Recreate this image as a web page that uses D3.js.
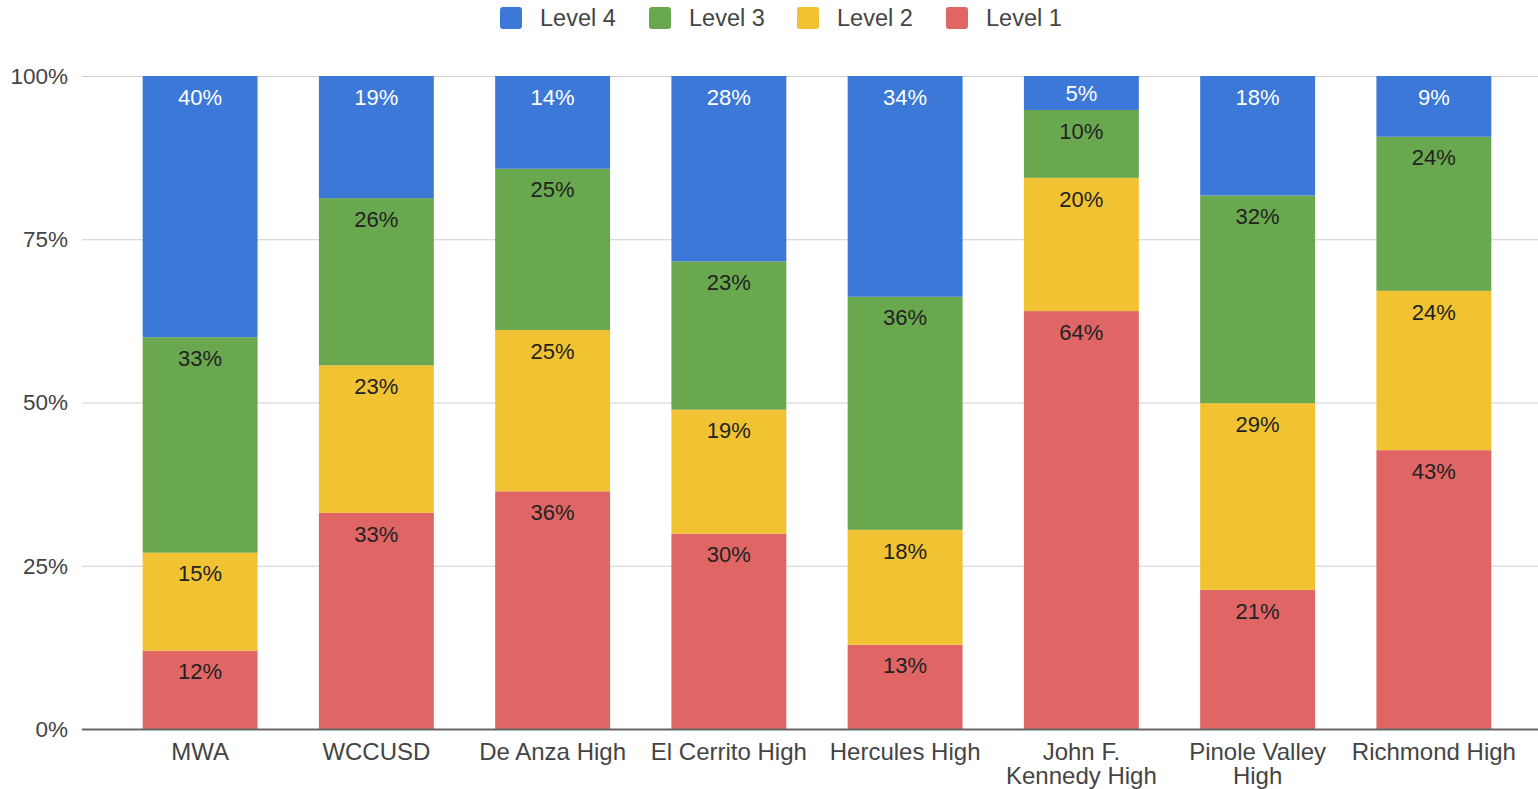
<!DOCTYPE html>
<html>
<head>
<meta charset="utf-8">
<script src="https://cdn.jsdelivr.net/npm/d3@7"></script>
<style>
  body { margin: 0; background: #fff; }
  svg { display: block; font-family: "Liberation Sans", Arial, sans-serif; }
</style>
</head>
<body>
<div id="chart"></div>
<script>
const schools = ['MWA', 'WCCUSD', 'De Anza High', 'El Cerrito High', 'Hercules High',
  'John F. Kennedy High', 'Pinole Valley High', 'Richmond High'];
// how the category labels break onto lines under the axis
const schoolLines = [['MWA'], ['WCCUSD'], ['De Anza High'], ['El Cerrito High'], ['Hercules High'],
  ['John F.', 'Kennedy High'], ['Pinole Valley', 'High'], ['Richmond High']];
const level1 = [12.0, 33.1, 36.4, 29.9, 12.9, 64.0, 21.3, 42.7];
const level2 = [15.0, 22.6, 24.7, 19.0, 17.6, 20.4, 28.6, 24.4];
const level3 = [33.0, 25.6, 24.7, 22.7, 35.7, 10.4, 31.8, 23.6];
const level4 = [40.0, 18.7, 14.2, 28.4, 33.8, 5.2, 18.3, 9.3];
const levels = ['Level 1', 'Level 2', 'Level 3', 'Level 4'];
const yTicks = [0, 25, 50, 75, 100];

const colors = {
  'Level 1': '#e06666',
  'Level 2': '#f1c232',
  'Level 3': '#6aa84f',
  'Level 4': '#3c78d8',
};

const W = 1538, H = 789;
const margin = { top: 76, right: 16, bottom: 60, left: 112 };

const rows = schools.map((s, i) => ({
  school: s,
  'Level 1': level1[i],
  'Level 2': level2[i],
  'Level 3': level3[i],
  'Level 4': level4[i],
}));

const svg = d3.select('#chart').append('svg')
  .attr('width', W)
  .attr('height', H);

const x = d3.scaleBand()
  .domain(schools)
  .range([margin.left, W - margin.right])
  .paddingInner(0.348)
  .paddingOuter(0.174);

const y = d3.scaleLinear()
  .domain([0, 100])
  .range([H - margin.bottom, margin.top]);

// gridlines
svg.append('g')
  .selectAll('line')
  .data(yTicks.filter(t => t > 0))
  .join('line')
  .attr('x1', 82)
  .attr('x2', W)
  .attr('y1', d => y(d) + 0.5)
  .attr('y2', d => y(d) + 0.5)
  .attr('stroke', '#d0d0d0')
  .attr('stroke-width', 1);

// y labels
svg.append('g')
  .selectAll('text')
  .data(yTicks)
  .join('text')
  .attr('x', 68)
  .attr('y', d => y(d))
  .attr('dy', '0.35em')
  .attr('text-anchor', 'end')
  .attr('fill', '#444')
  .style('font-size', '22.5px')
  .text(d => d + '%');

const stack = d3.stack().keys(levels);
const series = stack(rows);

const layer = svg.append('g')
  .selectAll('g')
  .data(series)
  .join('g')
  .attr('fill', d => colors[d.key]);

layer.selectAll('rect')
  .data(d => d.map(v => ({ key: d.key, v })))
  .join('rect')
  .attr('x', d => x(d.v.data.school))
  .attr('width', x.bandwidth())
  .attr('y', d => y(d.v[1]))
  .attr('height', d => y(d.v[0]) - y(d.v[1]));

// segment labels
const fmt = d => Math.round(d) + '%';
layer.selectAll('text')
  .data(d => d.map(v => ({ key: d.key, v })))
  .join('text')
  .attr('x', d => x(d.v.data.school) + x.bandwidth() / 2)
  .attr('y', d => {
    const top = y(d.v[1]);
    const mid = (y(d.v[0]) + top) / 2;
    return Math.min(top + 21, mid);
  })
  .attr('dy', '0.35em')
  .attr('text-anchor', 'middle')
  .attr('fill', d => d.key === 'Level 4' ? '#fff' : '#222')
  .style('font-size', '22px')
  .text(d => fmt(d.v.data[d.key]));

// baseline
svg.append('line')
  .attr('x1', 82)
  .attr('x2', W)
  .attr('y1', y(0) + 0.5)
  .attr('y2', y(0) + 0.5)
  .attr('stroke', '#666')
  .attr('stroke-width', 2);

// x labels
const xl = svg.append('g')
  .selectAll('text')
  .data(schools)
  .join('text')
  .attr('x', d => x(d) + x.bandwidth() / 2)
  .attr('y', y(0) + 31)
  .attr('dy', '0.35em')
  .attr('text-anchor', 'middle')
  .attr('fill', '#444')
  .style('font-size', '24px');

xl.each(function (d, i) {
  const el = d3.select(this);
  schoolLines[i].forEach((l, j) => {
    el.append('tspan')
      .attr('x', x(d) + x.bandwidth() / 2)
      .attr('dy', j === 0 ? 0 : 24)
      .text(l);
  });
});

// legend
const legendItems = ['Level 4', 'Level 3', 'Level 2', 'Level 1'];
const legendX = [500, 649, 797, 946];
const lg = svg.append('g')
  .selectAll('g')
  .data(legendItems)
  .join('g')
  .attr('transform', (d, i) => `translate(${legendX[i]}, 7)`);

lg.append('rect')
  .attr('width', 22)
  .attr('height', 22)
  .attr('rx', 3)
  .attr('fill', d => colors[d]);

lg.append('text')
  .attr('x', 40)
  .attr('y', 11)
  .attr('dy', '0.35em')
  .attr('fill', '#444')
  .style('font-size', '23.5px')
  .text(d => d);
</script>
</body>
</html>
